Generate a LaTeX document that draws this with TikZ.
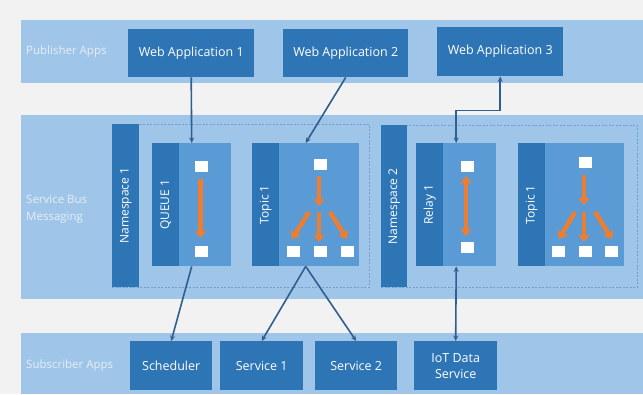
\documentclass[tikz,border=0pt]{standalone}
\usepackage{fontspec}
\setmainfont{Open Sans}
\usetikzlibrary{arrows.meta,calc}
\definecolor{bg}{HTML}{F2F2F2}
\definecolor{band}{HTML}{9FC5E8}
\definecolor{dark}{HTML}{2E75B6}
\definecolor{mid}{HTML}{5B9BD5}
\definecolor{orng}{HTML}{ED7D31}
\definecolor{conncol}{HTML}{2F5F8F}
\definecolor{lbl}{HTML}{E6EFF8}
\definecolor{dashcol}{HTML}{6F9FCF}
\tikzset{
  appbox/.style={fill=dark,draw=none,text=white,anchor=north west,inner sep=0pt,align=center,font=\fontsize{12.5}{16}\selectfont},
  innerbox/.style={fill=mid,draw=none,anchor=north west,inner sep=0pt},
  stripbox/.style={fill=dark,draw=none,anchor=north west,inner sep=0pt},
  striptext/.style={text=white,rotate=90,font=\fontsize{12}{14}\selectfont,inner sep=0pt},
  nsbox/.style={draw=dashcol,dashed,dash pattern=on 2pt off 1.5pt,line width=0.8pt,fill=band,anchor=north west,inner sep=0pt},
  bandlabel/.style={text=lbl,anchor=west,align=left,inner sep=0pt,font=\fontsize{11.5}{17}\selectfont},
  sq/.style={fill=white,draw=none,minimum width=13pt,minimum height=11pt,inner sep=0pt},
  oarrow/.style={draw=orng,line width=4.5pt,-{Triangle[width=11pt,length=7pt]}},
  obiarrow/.style={draw=orng,line width=4.5pt,{Triangle[width=11pt,length=7pt]}-{Triangle[width=11pt,length=7pt]}},
  conn/.style={draw=conncol,line width=1.6pt,-{Stealth[length=5.5pt,width=5pt]}},
  biconn/.style={draw=conncol,line width=1.6pt,{Stealth[length=5.5pt,width=5pt]}-{Stealth[length=5.5pt,width=5pt]}}
}
\begin{document}
\begin{tikzpicture}[x=1pt,y=-1pt]
\fill[bg] (0,0) rectangle (643,394);
\useasboundingbox (0,0) rectangle (643,394);
% bands
\fill[band] (21,20) rectangle (643,83);
\fill[band] (21,115) rectangle (643,299);
\fill[band] (21,333) rectangle (643,394);
\node[bandlabel] (lpub) at (26,52) {Publisher Apps};
\node[bandlabel] (lsb) at (26,209) {Service Bus\\Messaging};
\node[bandlabel] (lsub) at (26,366) {Subscriber Apps};
% publisher apps
\node[appbox,minimum width=126pt,minimum height=48pt] (wa1) at (128,29) {Web Application 1};
\node[appbox,minimum width=125pt,minimum height=48pt] (wa2) at (283,29) {Web Application 2};
\node[appbox,minimum width=126pt,minimum height=49pt] (wa3) at (437,27) {Web Application 3};
% namespaces
\node[nsbox,minimum width=257pt,minimum height=163pt] (ns1) at (112,124) {};
\node[stripbox,minimum width=27pt,minimum height=163pt] (ns1bar) at (112,124) {};
\node[striptext] (ns1t) at (ns1bar.center) {Namespace 1};
\node[nsbox,minimum width=256pt,minimum height=162pt] (ns2) at (381,125) {};
\node[stripbox,minimum width=26pt,minimum height=162pt] (ns2bar) at (381,125) {};
\node[striptext] (ns2t) at (ns2bar.center) {Namespace 2};
% queue
\node[innerbox,minimum width=79pt,minimum height=123pt] (queue) at (152,143) {};
\node[stripbox,minimum width=27pt,minimum height=123pt] (queuestrip) at (152,143) {};
\node[striptext] (queuet) at (queuestrip.center) {QUEUE 1};
\node[sq] (q1) at (201,166) {};
\node[sq] (q2) at (201,251) {};
\draw[oarrow] (200.5,179) -- (200.5,238);
% topic 1
\node[innerbox,minimum width=107pt,minimum height=123pt] (topic1) at (252,143) {};
\node[stripbox,minimum width=27pt,minimum height=123pt] (topic1strip) at (252,143) {};
\node[striptext] (topic1t) at (topic1strip.center) {Topic 1};
\node[sq] (t1a) at (320,164) {};
\node[sq] (t1b) at (293,251) {};
\node[sq] (t1c) at (320,251) {};
\node[sq] (t1d) at (347,251) {};
\draw[oarrow] (319,176) -- (319,206);
\draw[oarrow] (309,212) -- (292,239);
\draw[oarrow] (319,212) -- (319,242);
\draw[oarrow] (330,212) -- (347,239);
% relay
\node[innerbox,minimum width=80pt,minimum height=123pt] (relay) at (416,143) {};
\node[stripbox,minimum width=27pt,minimum height=123pt] (relaystrip) at (416,143) {};
\node[striptext] (relayt) at (relaystrip.center) {Relay 1};
\node[sq] (r1) at (467.5,166) {};
\node[sq] (r2) at (467.5,247) {};
\draw[obiarrow] (466,176) -- (466,236);
% topic 2
\node[innerbox,minimum width=106pt,minimum height=123pt] (topic2) at (518,143) {};
\node[stripbox,minimum width=27pt,minimum height=123pt] (topic2strip) at (518,143) {};
\node[striptext] (topic2t) at (topic2strip.center) {Topic 1};
\node[sq] (t2a) at (585,162) {};
\node[sq] (t2b) at (558.5,251.5) {};
\node[sq] (t2c) at (585.5,251.5) {};
\node[sq] (t2d) at (611.5,251.5) {};
\draw[oarrow] (584,175) -- (584,205);
\draw[oarrow] (575,212) -- (559,239);
\draw[oarrow] (584,212) -- (584,242);
\draw[oarrow] (595,212) -- (612,239);
% subscriber apps
\node[appbox,minimum width=82pt,minimum height=49pt] (sched) at (130,341) {Scheduler};
\node[appbox,minimum width=83pt,minimum height=49pt] (svc1) at (220,341) {Service 1};
\node[appbox,minimum width=82pt,minimum height=49pt] (svc2) at (315,341) {Service 2};
\node[appbox,minimum width=83pt,minimum height=49pt] (iot) at (414,341) {IoT Data\\Service};
% connectors
\draw[conn] (wa1.south) -- (queue.north);
\draw[conn] (wa2.south) -- (topic1.north);
\draw[biconn] (wa3.south) -- ++(0,34) -| (relay.north);
\draw[biconn] (relay.south) -- (iot.north);
\draw[conn] (queue.south) -- (sched.north);
\draw[conn] (topic1.south) -- (svc1.north);
\draw[conn] (topic1.south) -- (svc2.north);
\end{tikzpicture}
\end{document}
